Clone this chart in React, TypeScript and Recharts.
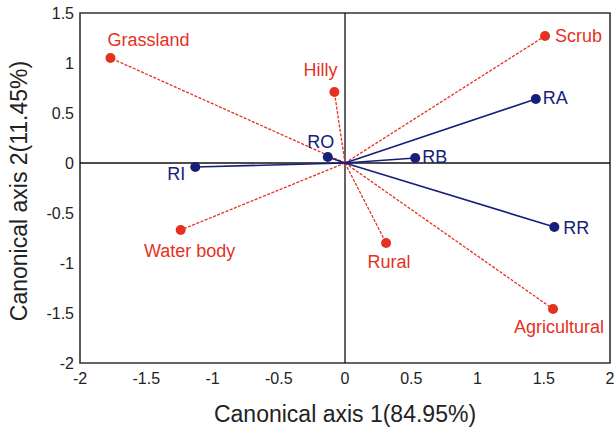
import React from 'react';
import { ScatterChart, Scatter, XAxis, YAxis, ReferenceLine, ReferenceArea } from 'recharts';

const envNames = ['Grassland', 'Hilly', 'Scrub', 'Water body', 'Rural', 'Agricultural'];
const envX = [-1.77, -0.08, 1.51, -1.24, 0.31, 1.57];
const envY = [1.05, 0.71, 1.27, -0.67, -0.8, -1.46];

const varNames = ['RO', 'RI', 'RB', 'RA', 'RR'];
const varX = [-0.13, -1.13, 0.53, 1.44, 1.58];
const varY = [0.06, -0.04, 0.05, 0.64, -0.64];

const xTicks = [-2, -1.5, -1, -0.5, 0, 0.5, 1, 1.5, 2];
const yTicks = [-2, -1.5, -1, -0.5, 0, 0.5, 1, 1.5];

const xTitle = 'Canonical axis 1(84.95%)';
const yTitle = 'Canonical axis 2(11.45%)';

const RED = '#e5311f';
const BLUE = '#16207a';
const FONT = '"Liberation Sans", Arial, sans-serif';

// label placement relative to the point (pixels)
const placement: Record<string, { dx: number; dy: number; anchor: 'start' | 'middle' | 'end' }> = {
  Grassland: { dx: -3, dy: -12, anchor: 'start' },
  Hilly: { dx: -14, dy: -16, anchor: 'middle' },
  Scrub: { dx: 10, dy: 6, anchor: 'start' },
  'Water body': { dx: 9, dy: 27, anchor: 'middle' },
  Rural: { dx: 3, dy: 25, anchor: 'middle' },
  Agricultural: { dx: 6, dy: 24, anchor: 'middle' },
  RO: { dx: -7, dy: -9, anchor: 'middle' },
  RI: { dx: -10, dy: 13, anchor: 'end' },
  RB: { dx: 7, dy: 5, anchor: 'start' },
  RA: { dx: 7, dy: 5, anchor: 'start' },
  RR: { dx: 9, dy: 7, anchor: 'start' },
};

const makeShape = (color: string) => (props: any) => {
  const { cx, cy, payload } = props;
  if (!payload || !payload.name) return <g />;
  const p = placement[payload.name] || { dx: 8, dy: 5, anchor: 'start' };
  return (
    <g>
      <circle cx={cx} cy={cy} r={5} fill={color} />
      <text
        x={cx + p.dx}
        y={cy + p.dy}
        textAnchor={p.anchor}
        fill={color}
        fontSize={18}
        fontFamily={FONT}
      >
        {payload.name}
      </text>
    </g>
  );
};

const vec = (names: string[], xs: number[], ys: number[]) =>
  names.map((n, i) => [
    { x: 0, y: 0, name: '' },
    { x: xs[i], y: ys[i], name: n },
  ]);

const envData = vec(envNames, envX, envY);
const varData = vec(varNames, varX, varY);

const tickStyle = { fill: '#222', fontSize: 16, fontFamily: FONT };

export default function App() {
  return (
    <div style={{ position: 'absolute', left: 0, top: 0, width: 614, height: 428, background: '#fff' }}>
      <ScatterChart width={614} height={428} margin={{ top: 13, right: 4, bottom: 0, left: 0 }}>
        <XAxis
          type="number"
          dataKey="x"
          domain={[-2, 2]}
          ticks={xTicks}
          tickLine={false}
          axisLine={false}
          tick={tickStyle}
          tickMargin={4}
          height={65}
          allowDataOverflow
          label={{
            value: xTitle,
            position: 'insideBottom',
            offset: 6,
            fill: '#222',
            fontSize: 23,
            fontFamily: FONT,
          }}
        />
        <YAxis
          type="number"
          dataKey="y"
          domain={[-2, 1.5]}
          ticks={yTicks}
          tickLine={false}
          axisLine={false}
          tick={tickStyle}
          tickMargin={0}
          width={80}
          allowDataOverflow
          label={{
            content: () => (
              <text
                x={27}
                y={191}
                transform="rotate(-90 27 191)"
                textAnchor="middle"
                fill="#222"
                fontSize={23}
                fontFamily={FONT}
              >
                {yTitle}
              </text>
            ),
          }}
        />
        <ReferenceArea
          x1={-2}
          x2={2}
          y1={-2}
          y2={1.5}
          fill="none"
          stroke="#333"
          strokeWidth={1.6}
          ifOverflow="visible"
        />
        <ReferenceLine x={0} stroke="#111" strokeWidth={1.3} />
        <ReferenceLine y={0} stroke="#111" strokeWidth={1.3} />
        {envData.map((d, i) => (
          <Scatter
            key={'e' + i}
            data={d}
            isAnimationActive={false}
            line={{ stroke: RED, strokeWidth: 1.3, strokeDasharray: '3 1.5' }}
            shape={makeShape(RED)}
          />
        ))}
        {varData.map((d, i) => (
          <Scatter
            key={'v' + i}
            data={d}
            isAnimationActive={false}
            line={{ stroke: BLUE, strokeWidth: 1.6 }}
            shape={makeShape(BLUE)}
          />
        ))}
      </ScatterChart>
    </div>
  );
}
